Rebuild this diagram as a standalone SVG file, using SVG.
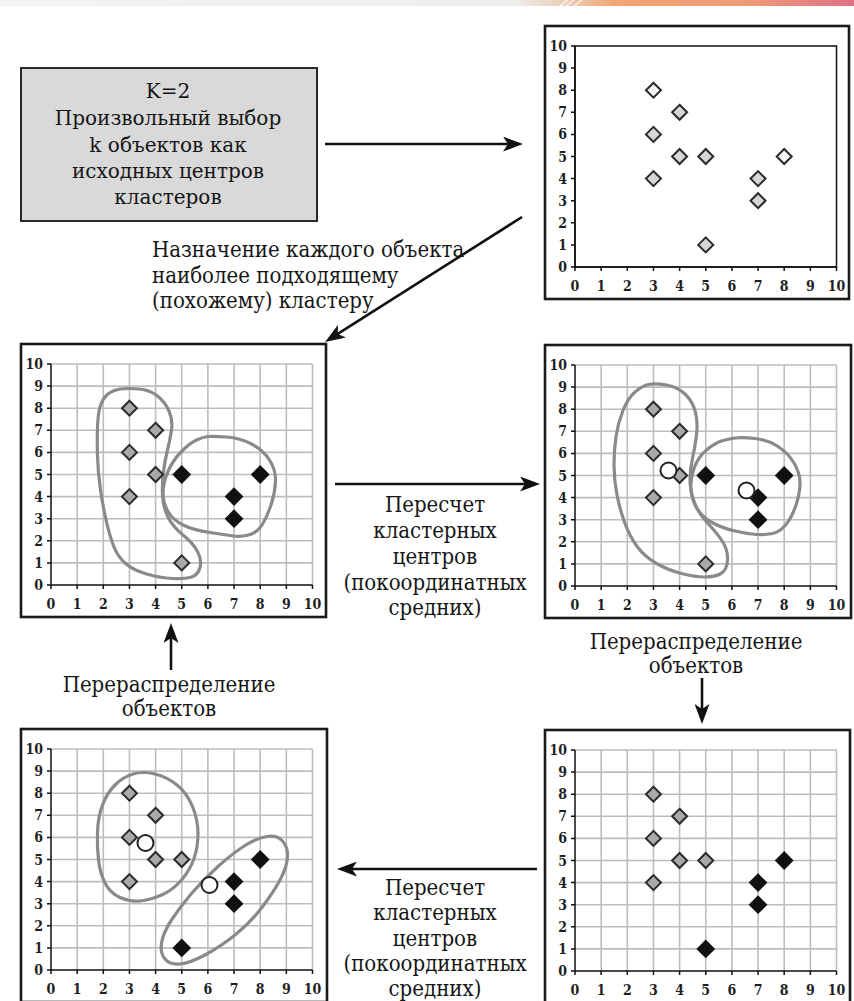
<svg xmlns="http://www.w3.org/2000/svg" xmlns:xlink="http://www.w3.org/1999/xlink" width="854" height="1001" viewBox="0 0 854 1001">
<style>
.t{font-size:22px;fill:#161616;text-anchor:middle}
.tl{text-anchor:start}
.ax{font-size:14px;font-weight:bold;fill:#1e1e1e}
.yl{text-anchor:end}
.xl{text-anchor:middle}
.f1{font-family:'DejaVu Serif Condensed', 'DejaVu Serif', serif}
.f2{font-family:'DejaVu Serif', serif;font-size:20px}
.f3{font-family:'DejaVu Serif Condensed', 'DejaVu Serif', serif}
.frame{fill:#fff;stroke:#1a1a1a;stroke-width:2.6}
.grid{fill:none;stroke:#bdbdbd;stroke-width:1.6}
.axis{fill:none;stroke:#111;stroke-width:1.5}
.clu{fill:none;stroke:#8a8a8a;stroke-width:3.2}
.dg{fill:#a9a9a9;stroke:#2a2a2a;stroke-width:2}
.dl{fill:#d6d6d6;stroke:#2a2a2a;stroke-width:2}
.dw{fill:#f6f6f6;stroke:#2a2a2a;stroke-width:2}
.db{fill:#111;stroke:#111;stroke-width:2}
.ctr{fill:#fff;stroke:#222;stroke-width:2}
.conn{fill:none;stroke:#111;stroke-width:2.6}
</style>
<defs>
<linearGradient id="banner" x1="0" y1="0" x2="1" y2="0">
<stop offset="0" stop-color="#f3f3f3"/>
<stop offset="0.6" stop-color="#efeeec"/>
<stop offset="0.655" stop-color="#e9d2bf"/>
<stop offset="0.72" stop-color="#f1a673"/>
<stop offset="0.88" stop-color="#ee9a78"/>
<stop offset="1" stop-color="#df7086"/>
</linearGradient>
<marker id="ah" markerWidth="20" markerHeight="15" refX="12" refY="7.5" orient="auto" markerUnits="userSpaceOnUse">
<path d="M0 0 L20 7.5 L0 15 L5 7.5 Z" fill="#111"/>
</marker>
<path id="dm" d="M0 -7.5 L7.5 0 L0 7.5 L-7.5 0 Z"/>
<path id="dmb" d="M0 -8 L8 0 L0 8 L-8 0 Z"/>
<g id="labels" class="f3">
<g class="ax yl">
<text x="22" y="25">10</text><text x="22" y="47.1">9</text><text x="22" y="69.2">8</text><text x="22" y="91.3">7</text><text x="22" y="113.4">6</text><text x="22" y="135.5">5</text><text x="22" y="157.6">4</text><text x="22" y="179.7">3</text><text x="22" y="201.8">2</text><text x="22" y="223.9">1</text><text x="22" y="246">0</text>
</g>
<g class="ax xl">
<text x="30" y="265">0</text><text x="56.15" y="265">1</text><text x="82.3" y="265">2</text><text x="108.45" y="265">3</text><text x="134.6" y="265">4</text><text x="160.75" y="265">5</text><text x="186.9" y="265">6</text><text x="213.05" y="265">7</text><text x="239.2" y="265">8</text><text x="265.35" y="265">9</text><text x="291.5" y="265">10</text>
</g>
</g>
<path id="ticks" class="axis" d="M30 20V241H291.5 M26 20H30 M26 42.1H30 M26 64.2H30 M26 86.3H30 M26 108.4H30 M26 130.5H30 M26 152.6H30 M26 174.7H30 M26 196.8H30 M26 218.9H30 M26 241H30 M30 241V245 M56.15 241V245 M82.3 241V245 M108.45 241V245 M134.6 241V245 M160.75 241V245 M186.9 241V245 M213.05 241V245 M239.2 241V245 M265.35 241V245 M291.5 241V245"/>
<path id="grid" class="grid" d="M56.15 20V241 M82.3 20V241 M108.45 20V241 M134.6 20V241 M160.75 20V241 M186.9 20V241 M213.05 20V241 M239.2 20V241 M265.35 20V241 M291.5 20V241 M30 218.9H291.5 M30 196.8H291.5 M30 174.7H291.5 M30 152.6H291.5 M30 130.5H291.5 M30 108.4H291.5 M30 86.3H291.5 M30 64.2H291.5 M30 42.1H291.5 M30 20H291.5"/>
</defs>

<rect x="0" y="0" width="854" height="6" fill="url(#banner)"/>
<path d="M560 6 L568 0 M566 6 L574 0 M574 6 L582 0" stroke="#ffffff" stroke-opacity="0.6" stroke-width="2"/>

<g id="node-init">
<rect x="21" y="68" width="296" height="153" fill="#d9d9d9" stroke="#2a2a2a" stroke-width="2"/>
<g class="f2">
<text class="t f2" x="168" y="98">K=2</text>
<text class="t f2" x="168" y="125">Произвольный выбор</text>
<text class="t f2" x="168" y="152">k объектов как</text>
<text class="t f2" x="168" y="178">исходных центров</text>
<text class="t f2" x="168" y="204">кластеров</text>
</g>
</g>

<g id="chart-initial" transform="translate(545,26)">
<rect class="frame" x="0" y="0" width="304" height="273"/>
<rect x="30" y="20" width="261.5" height="221" fill="none" stroke="#111" stroke-width="1.5"/>
<use href="#ticks"/>
<use href="#labels"/>
<use href="#dm" class="dw" x="108.45" y="64.2"/>
<use href="#dm" class="dl" x="134.6" y="86.3"/>
<use href="#dm" class="dl" x="108.45" y="108.4"/>
<use href="#dm" class="dl" x="134.6" y="130.5"/>
<use href="#dm" class="dl" x="160.75" y="130.5"/>
<use href="#dm" class="dl" x="108.45" y="152.6"/>
<use href="#dm" class="dw" x="239.2" y="130.5"/>
<use href="#dm" class="dl" x="213.05" y="152.6"/>
<use href="#dm" class="dl" x="213.05" y="174.7"/>
<use href="#dm" class="dl" x="160.75" y="218.9"/>
</g>

<g id="chart-assign" transform="translate(21,344)">
<rect class="frame" x="0" y="0" width="305" height="273"/>
<use href="#grid"/>
<use href="#ticks"/>
<use href="#labels"/>
<path class="clu" d="M 99.5 45 Q 107 44 118 45 Q 129 46 136.5 52 Q 144 58 148 67 Q 152 76 150.5 86 Q 149 96 146.5 106 Q 144 116 142.5 127.5 Q 141 139 141.5 151 Q 142 163 147 173 Q 152 183 162 191 Q 172 199 176.5 207.5 Q 181 216 179 223.5 Q 177 231 170.5 233 Q 164 235 151.5 234.5 Q 139 234 125.5 230 Q 112 226 104.5 219.5 Q 97 213 93 203 Q 89 193 85.5 178 Q 82 163 79.5 146 Q 77 129 76.5 112.5 Q 76 96 76.5 82.5 Q 77 69 79.5 61.5 Q 82 54 87 50 Q 92 46 99.5 45 Z"/>
<path class="clu" d="M 187 92.5 Q 192 92 205.5 93 Q 219 94 230.5 100 Q 242 106 248.5 116 Q 255 126 254.5 137.5 Q 254 149 250 161 Q 246 173 241 181 Q 236 189 227.5 191 Q 219 193 212.5 192 Q 206 191 189 188.5 Q 172 186 162 181 Q 152 176 147 167.5 Q 142 159 142 149 Q 142 139 147 127.5 Q 152 116 160.5 107.5 Q 169 99 175.5 96 Q 182 93 187 92.5 Z"/>
<use href="#dm" class="dg" x="108.45" y="64.2"/>
<use href="#dm" class="dg" x="134.6" y="86.3"/>
<use href="#dm" class="dg" x="108.45" y="108.4"/>
<use href="#dm" class="dg" x="134.6" y="130.5"/>
<use href="#dm" class="dg" x="108.45" y="152.6"/>
<use href="#dm" class="dg" x="160.75" y="218.9"/>
<use href="#dmb" class="db" x="160.75" y="130.5"/>
<use href="#dmb" class="db" x="239.2" y="130.5"/>
<use href="#dmb" class="db" x="213.05" y="152.6"/>
<use href="#dmb" class="db" x="213.05" y="174.7"/>
</g>

<g id="chart-centers1" transform="translate(545,345)">
<rect class="frame" x="0" y="0" width="306" height="273"/>
<use href="#grid"/>
<use href="#ticks"/>
<use href="#labels"/>
<path class="clu" d="M 103.5 39.5 Q 110 38 121.5 40 Q 133 42 140.5 49.5 Q 148 57 150.5 67.5 Q 153 78 151.5 90 Q 150 102 147.5 113.5 Q 145 125 145 135 Q 145 145 149 156.5 Q 153 168 162.5 178 Q 172 188 177.5 196.5 Q 183 205 182.5 215 Q 182 225 176 228.5 Q 170 232 160 232 Q 150 232 136.5 228.5 Q 123 225 111.5 218.5 Q 100 212 92.5 202 Q 85 192 80 178.5 Q 75 165 72 150 Q 69 135 69 120 Q 69 105 71 91.5 Q 73 78 78 65.5 Q 83 53 90 47 Q 97 41 103.5 39.5 Z"/>
<path class="clu" d="M 190 93 Q 197 92 210 93.5 Q 223 95 233 101.5 Q 243 108 249 118 Q 255 128 255 138 Q 255 148 251 160 Q 247 172 241 179.5 Q 235 187 227.5 188.5 Q 220 190 211.5 189.5 Q 203 189 190 186 Q 177 183 167 177.5 Q 157 172 152 163.5 Q 147 155 146 145 Q 145 135 149 123.5 Q 153 112 161.5 105 Q 170 98 176.5 96 Q 183 94 190 93 Z"/>
<use href="#dm" class="dg" x="108.45" y="64.2"/>
<use href="#dm" class="dg" x="134.6" y="86.3"/>
<use href="#dm" class="dg" x="108.45" y="108.4"/>
<use href="#dm" class="dg" x="134.6" y="130.5"/>
<use href="#dm" class="dg" x="108.45" y="152.6"/>
<use href="#dm" class="dg" x="160.75" y="218.9"/>
<use href="#dmb" class="db" x="160.75" y="130.5"/>
<use href="#dmb" class="db" x="239.2" y="130.5"/>
<use href="#dmb" class="db" x="213.05" y="152.6"/>
<use href="#dmb" class="db" x="213.05" y="174.7"/>
<circle class="ctr" cx="123.5" cy="125.5" r="8"/>
<circle class="ctr" cx="201.5" cy="145.5" r="8"/>
</g>

<g id="chart-reassign" transform="translate(545,730)">
<rect class="frame" x="0" y="0" width="305" height="273"/>
<use href="#grid"/>
<use href="#ticks"/>
<use href="#labels"/>
<use href="#dm" class="dg" x="108.45" y="64.2"/>
<use href="#dm" class="dg" x="134.6" y="86.3"/>
<use href="#dm" class="dg" x="108.45" y="108.4"/>
<use href="#dm" class="dg" x="134.6" y="130.5"/>
<use href="#dm" class="dg" x="160.75" y="130.5"/>
<use href="#dm" class="dg" x="108.45" y="152.6"/>
<use href="#dmb" class="db" x="239.2" y="130.5"/>
<use href="#dmb" class="db" x="213.05" y="152.6"/>
<use href="#dmb" class="db" x="213.05" y="174.7"/>
<use href="#dmb" class="db" x="160.75" y="218.9"/>
</g>

<g id="chart-centers2" transform="translate(21,729)">
<rect class="frame" x="0" y="0" width="306" height="273"/>
<use href="#grid"/>
<use href="#ticks"/>
<use href="#labels"/>
<path class="clu" d="M 112 45 Q 122 42 134 45 Q 146 48 156 56 Q 166 64 171.5 77.5 Q 177 91 177 104.5 Q 177 118 173 129.5 Q 169 141 160.5 151 Q 152 161 140.5 166 Q 129 171 119 172 Q 109 173 99 168.5 Q 89 164 84 154 Q 79 144 77.5 131 Q 76 118 76.5 103 Q 77 88 81.5 76 Q 86 64 94 56 Q 102 48 112 45 Z"/>
<path class="clu" d="M 246 107.5 Q 256 106 261.5 112 Q 267 118 266.5 128 Q 266 138 259 151 Q 252 164 240.5 179 Q 229 194 214 206 Q 199 218 184 226 Q 169 234 159 235 Q 149 236 144 230 Q 139 224 140.5 214 Q 142 204 150.5 191 Q 159 178 170.5 164.5 Q 182 151 197 137.5 Q 212 124 224 116.5 Q 236 109 246 107.5 Z"/>
<use href="#dm" class="dg" x="108.45" y="64.2"/>
<use href="#dm" class="dg" x="134.6" y="86.3"/>
<use href="#dm" class="dg" x="108.45" y="108.4"/>
<use href="#dm" class="dg" x="134.6" y="130.5"/>
<use href="#dm" class="dg" x="160.75" y="130.5"/>
<use href="#dm" class="dg" x="108.45" y="152.6"/>
<use href="#dmb" class="db" x="239.2" y="130.5"/>
<use href="#dmb" class="db" x="213.05" y="152.6"/>
<use href="#dmb" class="db" x="213.05" y="174.7"/>
<use href="#dmb" class="db" x="160.75" y="218.9"/>
<circle class="ctr" cx="124.5" cy="114" r="8"/>
<circle class="ctr" cx="188.5" cy="156" r="8"/>
</g>

<g id="connectors">
<line class="conn" x1="325" y1="144" x2="515" y2="144" marker-end="url(#ah)"/>
<line class="conn" x1="522" y1="217" x2="331.8" y2="337.7" marker-end="url(#ah)"/>
<line class="conn" x1="335" y1="484" x2="532" y2="484" marker-end="url(#ah)"/>
<line class="conn" x1="702" y1="678" x2="702" y2="716" marker-end="url(#ah)"/>
<line class="conn" x1="537" y1="869" x2="345" y2="869" marker-end="url(#ah)"/>
<line class="conn" x1="171" y1="670" x2="171" y2="631" marker-end="url(#ah)"/>
</g>

<g id="connector-labels" class="f1">
<text class="t tl" x="152" y="257">Назначение каждого объекта</text>
<text class="t tl" x="152" y="283">наиболее подходящему</text>
<text class="t tl" x="152" y="308">(похожему) кластеру</text>
<text class="t" x="435" y="512">Пересчет</text>
<text class="t" x="435" y="538">кластерных</text>
<text class="t" x="435" y="564">центров</text>
<text class="t" x="435" y="590">(покоординатных</text>
<text class="t" x="435" y="615">средних)</text>
<text class="t" x="696" y="649">Перераспределение</text>
<text class="t" x="696" y="673">объектов</text>
<text class="t" x="435" y="895">Пересчет</text>
<text class="t" x="435" y="920">кластерных</text>
<text class="t" x="435" y="946">центров</text>
<text class="t" x="435" y="971">(покоординатных</text>
<text class="t" x="435" y="996">средних)</text>
<text class="t" x="169" y="692">Перераспределение</text>
<text class="t" x="169" y="716">объектов</text>
</g>
</svg>
